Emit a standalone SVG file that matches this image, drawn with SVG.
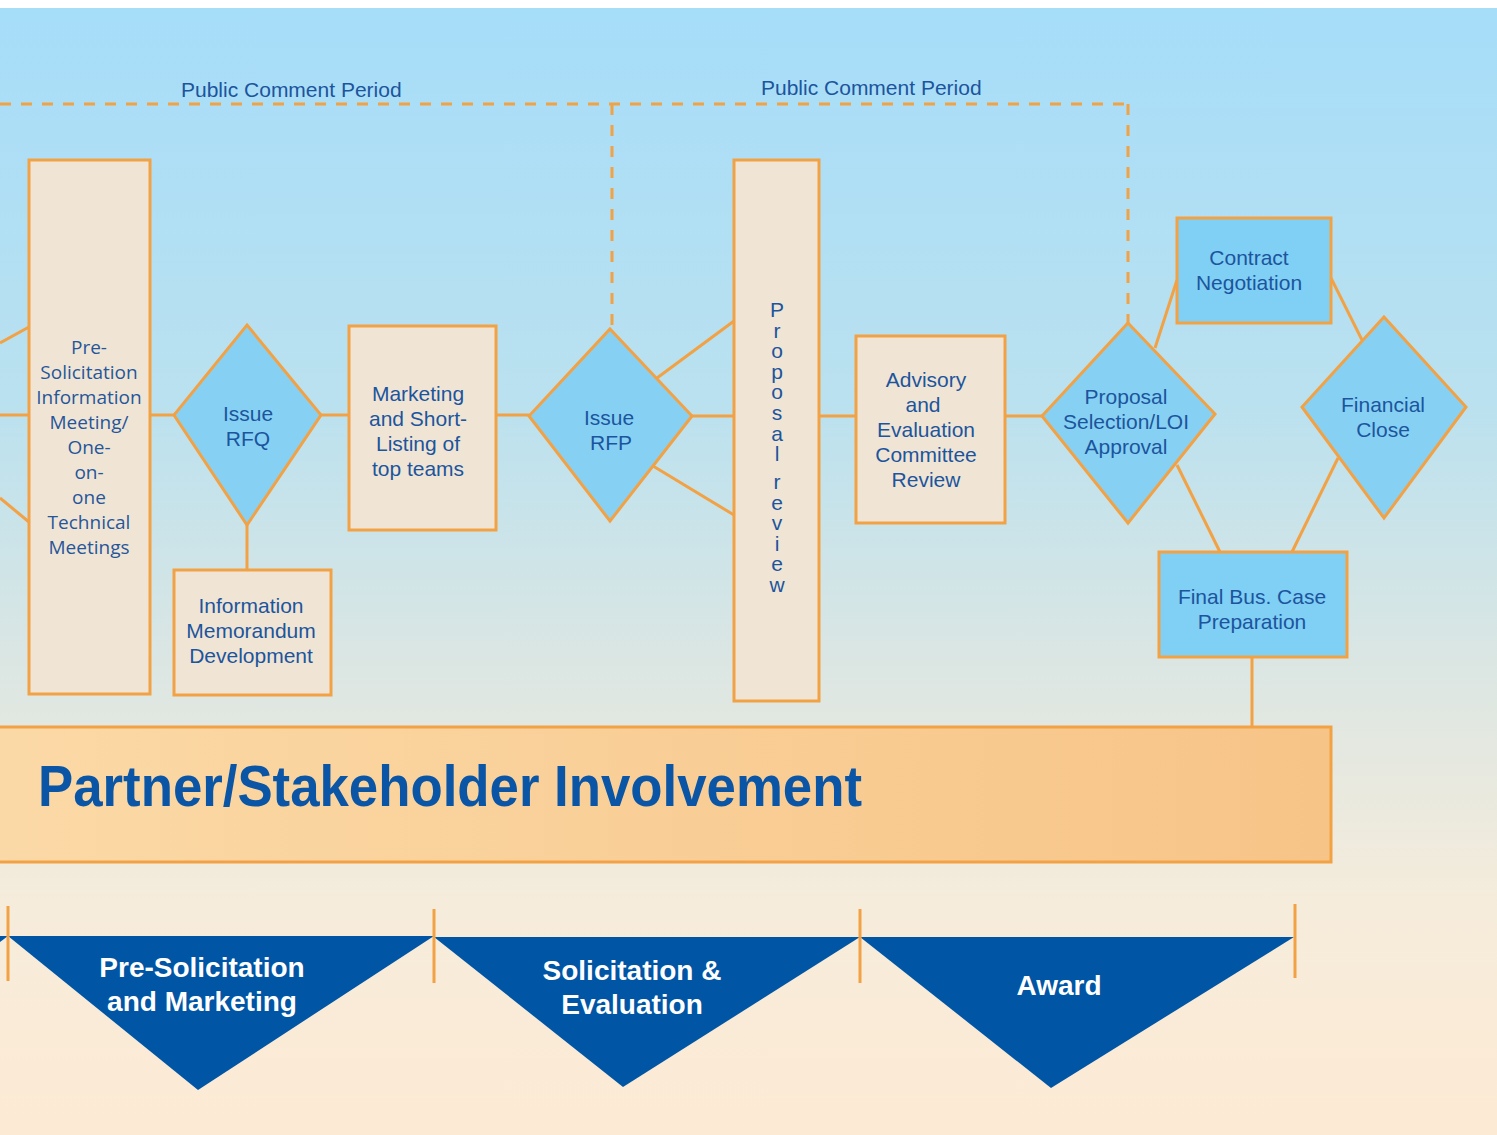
<svg xmlns="http://www.w3.org/2000/svg" width="1497" height="1135" viewBox="0 0 1497 1135">
  <defs>
    <linearGradient id="bg" x1="0" y1="0" x2="0" y2="1">
      <stop offset="0" stop-color="#a6ddf9"/>
      <stop offset="0.35" stop-color="#bae1ef"/>
      <stop offset="0.58" stop-color="#dbe6e3"/>
      <stop offset="0.8" stop-color="#f6ecdb"/>
      <stop offset="1" stop-color="#fdead4"/>
    </linearGradient>
    <linearGradient id="banner" x1="0" y1="0" x2="1" y2="0">
      <stop offset="0" stop-color="#fbd9a6"/>
      <stop offset="1" stop-color="#f7c487"/>
    </linearGradient>
  </defs>
  <style>
    .box { fill: #f0e5d5; stroke: #f2a245; stroke-width: 3; }
    .blue { fill: #80cff4; stroke: #f2a245; stroke-width: 3; }
    .dia { fill: #86d1f3; stroke: #f2a245; stroke-width: 3; stroke-linejoin: miter; }
    .link { stroke: #f2a245; stroke-width: 3; fill: none; }
    .dash { stroke: #f2a245; stroke-width: 3; fill: none; stroke-dasharray: 11 10; }
    .tick { stroke: #f2a245; stroke-width: 3; }
    .t { font-family: "Liberation Sans", Arial, sans-serif; font-size: 21px; fill: #1c559d; text-anchor: middle; }
    .tv { font-family: "Liberation Sans", Arial, sans-serif; font-size: 21px; fill: #1c559d; writing-mode: vertical-rl; text-orientation: upright; letter-spacing: -2.4px; }
    .th { font-family: "Open Sans", "Noto Sans", sans-serif; font-size: 19px; fill: #26569a; text-anchor: middle; }
    .pcp { font-family: "Liberation Sans", Arial, sans-serif; font-size: 21px; fill: #1c559d; }
    .phase { fill: #0055a5; }
    .pt { font-family: "Liberation Sans", Arial, sans-serif; font-weight: bold; font-size: 28px; fill: #ffffff; text-anchor: middle; }
    .big { font-family: "Liberation Sans", Arial, sans-serif; font-weight: bold; font-size: 57px; fill: #0a55a5; }
  </style>

  <!-- backdrop -->
  <rect x="0" y="0" width="1497" height="1135" fill="#ffffff"/>
  <rect x="0" y="8" width="1497" height="1127" fill="url(#bg)"/>

  <!-- public comment periods -->
  <g id="comment-periods">
    <path class="dash" d="M0,104 H1128"/>
    <path class="dash" d="M612,104 V329"/>
    <path class="dash" d="M1128,104 V323"/>
    <text class="pcp" x="181" y="97">Public Comment Period</text>
    <text class="pcp" x="761" y="95">Public Comment Period</text>
  </g>

  <!-- connectors -->
  <g id="connectors">
    <path class="link" d="M0,343 L29,327"/>
    <path class="link" d="M0,415 H29"/>
    <path class="link" d="M0,498 L29,522"/>
    <path class="link" d="M150,415 H174"/>
    <path class="link" d="M247,525 V570"/>
    <path class="link" d="M321,415 H349"/>
    <path class="link" d="M496,415 H529"/>
    <path class="link" d="M657,378 L734,321"/>
    <path class="link" d="M692,416 H734"/>
    <path class="link" d="M653,466 L734,515"/>
    <path class="link" d="M819,416 H856"/>
    <path class="link" d="M1005,416 H1042"/>
    <path class="link" d="M1155,348 L1177,280"/>
    <path class="link" d="M1331,278 L1362,340"/>
    <path class="link" d="M1177,465 L1220,552"/>
    <path class="link" d="M1338,458 L1292,552"/>
    <path class="link" d="M1252,657 V727"/>
  </g>

  <g id="pre-solicitation-meeting">
    <rect class="box" x="29" y="160" width="121" height="534"/>
    <text class="th" x="89" y="354">Pre-</text>
    <text class="th" x="89" y="379">Solicitation</text>
    <text class="th" x="89" y="404">Information</text>
    <text class="th" x="89" y="429">Meeting/</text>
    <text class="th" x="89" y="454">One-</text>
    <text class="th" x="89" y="479">on-</text>
    <text class="th" x="89" y="504">one</text>
    <text class="th" x="89" y="529">Technical</text>
    <text class="th" x="89" y="554">Meetings</text>
  </g>

  <g id="issue-rfq">
    <polygon class="dia" points="247,325 321,415 247,525 174,415"/>
    <text class="t" x="248" y="421">Issue</text>
    <text class="t" x="248" y="446">RFQ</text>
  </g>

  <g id="information-memorandum">
    <rect class="box" x="174" y="570" width="157" height="125"/>
    <text class="t" x="251" y="613">Information</text>
    <text class="t" x="251" y="638">Memorandum</text>
    <text class="t" x="251" y="663">Development</text>
  </g>

  <g id="marketing-short-listing">
    <rect class="box" x="349" y="326" width="147" height="204"/>
    <text class="t" x="418" y="401">Marketing</text>
    <text class="t" x="418" y="426">and Short-</text>
    <text class="t" x="418" y="451">Listing of</text>
    <text class="t" x="418" y="476">top teams</text>
  </g>

  <g id="issue-rfp">
    <polygon class="dia" points="610,329 692,416 610,521 529,416"/>
    <text class="t" x="609" y="425">Issue</text>
    <text class="t" x="611" y="450">RFP</text>
  </g>

  <g id="proposal-review">
    <rect class="box" x="734" y="160" width="85" height="541"/>
    <!-- letters stacked upright down the column -->
    <text class="tv" x="777" y="298">Proposal</text>
    <text class="tv" x="777" y="470">review</text>
  </g>

  <g id="advisory-evaluation">
    <rect class="box" x="856" y="336" width="149" height="187"/>
    <text class="t" x="926" y="387">Advisory</text>
    <text class="t" x="923" y="412">and</text>
    <text class="t" x="926" y="437">Evaluation</text>
    <text class="t" x="926" y="462">Committee</text>
    <text class="t" x="926" y="487">Review</text>
  </g>

  <g id="proposal-selection">
    <polygon class="dia" points="1128,323 1215,414 1128,523 1042,416"/>
    <text class="t" x="1126" y="404">Proposal</text>
    <text class="t" x="1126" y="429">Selection/LOI</text>
    <text class="t" x="1126" y="454">Approval</text>
  </g>

  <g id="contract-negotiation">
    <rect class="blue" x="1177" y="218" width="154" height="105"/>
    <text class="t" x="1249" y="265">Contract</text>
    <text class="t" x="1249" y="290">Negotiation</text>
  </g>

  <g id="financial-close">
    <polygon class="dia" points="1384,317 1466,407 1384,518 1302,407"/>
    <text class="t" x="1383" y="412">Financial</text>
    <text class="t" x="1383" y="437">Close</text>
  </g>

  <g id="final-business-case">
    <rect class="blue" x="1159" y="552" width="188" height="105"/>
    <text class="t" x="1252" y="604">Final Bus. Case</text>
    <text class="t" x="1252" y="629">Preparation</text>
  </g>

  <g id="stakeholder-involvement">
    <rect x="-3" y="727" width="1334" height="135" fill="url(#banner)" stroke="#f2a245" stroke-width="3"/>
    <text class="big" x="38" y="806" textLength="824" lengthAdjust="spacingAndGlyphs">Partner/Stakeholder Involvement</text>
  </g>

  <g id="phases">
    <polygon class="phase" points="0,936 8,936 0,942"/>
    <polygon class="phase" points="8,936 434,936 198,1090"/>
    <polygon class="phase" points="434,937 860,937 623,1087"/>
    <polygon class="phase" points="860,937 1294,937 1051,1088"/>
    <line class="tick" x1="8" y1="906" x2="8" y2="981"/>
    <line class="tick" x1="434" y1="909" x2="434" y2="983"/>
    <line class="tick" x1="860" y1="909" x2="860" y2="983"/>
    <line class="tick" x1="1295" y1="904" x2="1295" y2="978"/>
    <text class="pt" x="202" y="977">Pre-Solicitation</text>
    <text class="pt" x="202" y="1011">and Marketing</text>
    <text class="pt" x="632" y="980">Solicitation &amp;</text>
    <text class="pt" x="632" y="1014">Evaluation</text>
    <text class="pt" x="1059" y="995">Award</text>
  </g>
</svg>
